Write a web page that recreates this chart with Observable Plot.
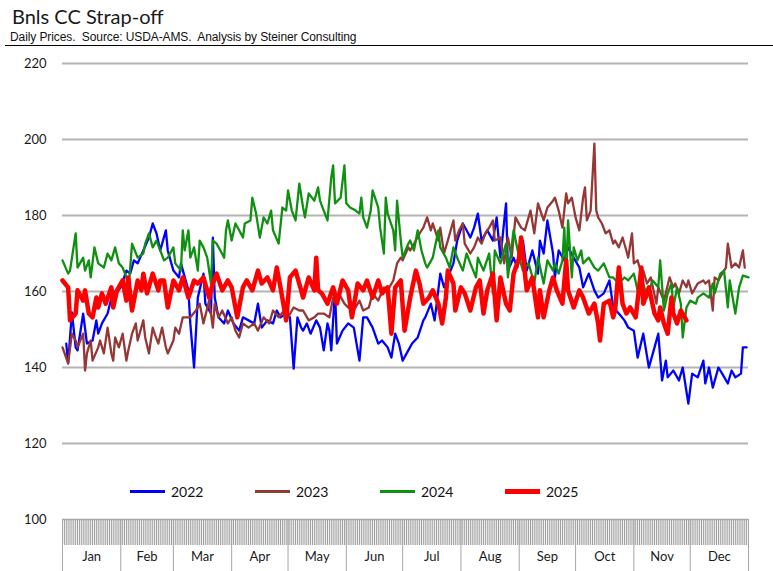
<!DOCTYPE html>
<html>
<head>
<meta charset="utf-8">
<script src="https://cdn.jsdelivr.net/npm/d3@7"></script>
<script src="https://cdn.jsdelivr.net/npm/@observablehq/plot@0.6"></script>
<style>
  body { margin:0; background:#fff; width:773px; height:571px; overflow:hidden; position:relative; font-family: Lato, "Open Sans", sans-serif; }
  #title { position:absolute; left:12px; top:6px; font-size:20px; line-height:20px; color:#1a1a1a; white-space:pre; }
  #sub { position:absolute; left:5px; top:31px; width:768px; padding-left:5px; box-sizing:border-box; font-family:"Liberation Sans", Arial, sans-serif; font-size:12px; line-height:12px; padding-bottom:2px; border-bottom:1px solid #000; white-space:pre; color:#111; letter-spacing:-0.1px; }
  #chart { position:absolute; left:0; top:46px; }
  .lg { position:absolute; top:482px; height:18px; display:flex; align-items:center; font-size:14px; color:#111; }
  .sw { display:inline-block; width:35px; margin-right:6px; }
</style>
</head>
<body>
<div id="title"></div>
<div id="sub"></div>
<div id="chart"></div>
<div id="legend"></div>
<script>
const titleText = "Bnls CC Strap-off";
const subtitleText = "Daily Prices.  Source: USDA-AMS.  Analysis by Steiner Consulting";
const yTicks = [100, 120, 140, 160, 180, 200, 220];
const monthLabels = ["Jan","Feb","Mar","Apr","May","Jun","Jul","Aug","Sep","Oct","Nov","Dec"];
const monthStarts = [0,31,59,90,120,151,181,212,243,273,304,334,365];
const seriesNames = ["2022","2023","2024","2025"];
const seriesColors = ["#0000ff","#953735","#109010","#ff0000"];
const seriesWidths = [2.3, 2.3, 2.3, 4.5];

// [day of year, price]
const s2022 = [[2,146.3],[3,141.1],[5,154.5],[7,145.3],[8,144.5],[11,154.2],[13,146.3],[16,147.1],[18,152.4],[19,148.9],[21,151.6],[24,154.2],[27,160.3],[28,159.1],[31,161.1],[34,165.5],[36,164.7],[38,168.2],[40,167.4],[43,170.8],[46,174.2],[48,177.9],[50,175.3],[52,170.8],[55,176.1],[56,170.8],[59,165.5],[62,163.7],[63,167.4],[67,160.3],[68,151.6],[70,140],[72,158.4],[75,164.7],[76,156.8],[79,154.2],[80,174.2],[81,158.4],[83,153.2],[86,151.6],[88,155],[91,151.6],[94,149.7],[96,153.2],[99,152.4],[102,151.6],[104,156.8],[106,150.5],[109,152.4],[112,151.6],[114,155],[116,153.2],[119,154.2],[121,153.2],[123,139.7],[125,153.2],[127,150.5],[128,149.7],[130,151.6],[132,148.9],[135,152.4],[137,150.5],[139,144.5],[141,151.6],[142,149.7],[143,144.5],[145,160.3],[146,146.3],[149,149.7],[152,151.6],[155,150.5],[158,141.8],[160,153.2],[162,153.2],[165,150.5],[168,146.3],[170,147.1],[173,145.3],[175,142.6],[177,148.9],[179,146.3],[181,141.8],[184,144.5],[186,146.3],[189,147.9],[192,152.4],[193,153.2],[196,156.8],[198,152.4],[201,164.7],[203,161.1],[205,163.7],[208,167.4],[210,173.4],[213,177.9],[215,176.1],[217,174.2],[219,176.8],[221,180.5],[223,173.4],[226,176.1],[229,173.4],[231,179.5],[233,168.9],[236,183.2],[237,165.5],[240,168.9],[242,166.3],[245,173.4],[247,165.5],[250,170.8],[253,164.7],[254,173.4],[256,170],[258,178.7],[261,170],[262,163.7],[264,170.8],[267,168.2],[269,171.6],[272,168.9],[275,166.3],[277,161.1],[280,164.7],[283,160.3],[285,158.4],[288,159.5],[291,162.9],[293,155.8],[296,154.2],[299,152.4],[301,150.5],[304,149.7],[306,142.6],[309,148.9],[312,140],[315,145.3],[317,148.9],[319,136.6],[321,141.8],[322,137.4],[325,139.2],[328,136.6],[330,140],[333,130.5],[335,138.4],[338,137.4],[341,141.8],[342,135.8],[344,140],[346,134.7],[349,140],[351,138.4],[354,135.8],[356,139.2],[358,137.4],[361,138.4],[362,145.3],[364,145.3]];

const s2023 = [[0,145.3],[3,141.1],[5,148.9],[7,147.1],[8,145.3],[11,148.9],[12,139.2],[13,143.7],[15,147.1],[16,141.8],[19,145.3],[20,147.1],[22,143.7],[24,150.5],[26,143.7],[27,141.8],[28,147.9],[30,145.3],[32,148.9],[34,141.8],[35,144.5],[37,148.9],[39,151.6],[40,147.1],[43,152.4],[44,147.9],[46,143.7],[48,150.5],[49,148.9],[51,146.3],[53,150.5],[55,145.3],[56,143.7],[59,147.1],[60,150.5],[62,148.9],[64,153.2],[68,153.2],[71,155],[73,156.8],[75,151.6],[78,157.6],[80,150.5],[81,156.8],[83,153.2],[85,155],[88,151.6],[90,153.2],[92,149.7],[94,147.9],[96,151.6],[99,150.5],[102,151.6],[104,149.7],[107,153.2],[110,151.6],[112,155],[115,153.2],[118,155],[120,153.2],[123,155.8],[126,155],[128,155],[131,152.4],[134,153.2],[136,154.2],[139,154.2],[142,153.2],[144,158.4],[147,159.5],[150,156.8],[152,155.8],[155,155],[158,157.6],[160,155],[163,155.8],[165,159.5],[168,157.6],[171,161.1],[173,160.3],[176,162.9],[178,167.4],[180,168.9],[181,168.2],[184,171.6],[185,170.8],[188,173.4],[190,175.3],[192,176.8],[194,179.5],[196,176.1],[197,177.9],[200,173.4],[201,176.8],[203,170],[205,173.4],[208,178.7],[209,173.4],[211,176.1],[213,177.9],[214,172.6],[217,170],[219,171.6],[221,174.2],[223,172.6],[225,175.3],[227,176.8],[229,178.7],[230,173.4],[233,174.2],[235,167.4],[237,174.2],[239,168.9],[241,179.5],[244,176.8],[246,176.1],[249,181.3],[251,175.3],[253,183.2],[256,178.7],[258,182.1],[261,183.9],[262,184.7],[264,181.3],[266,176.8],[268,185.8],[269,183.2],[271,184.7],[273,179.5],[275,176.1],[277,184.7],[278,187.4],[279,178.7],[281,181.3],[283,198.9],[284,181.3],[285,179.5],[287,177.9],[289,175.3],[291,176.1],[293,172.6],[294,173.4],[296,171.6],[298,174.2],[300,170.8],[301,168.9],[303,175.3],[304,167.4],[306,168.2],[308,164.7],[309,165.5],[311,162.1],[313,163.7],[316,156.8],[317,161.1],[320,157.6],[323,163.7],[325,161.1],[326,162.1],[328,159.5],[330,162.9],[332,161.1],[333,162.9],[335,159.5],[338,162.1],[341,162.9],[342,162.1],[344,162.9],[346,155],[347,163.7],[349,162.9],[351,164.7],[353,166.3],[354,172.6],[356,166.3],[358,167.4],[360,166.3],[362,170.8],[363,166.3]];

const s2024 = [[0,168.2],[3,164.7],[4,165.5],[7,175.3],[8,166.3],[11,168.9],[12,165.5],[14,168.2],[15,163.7],[17,171.6],[19,167.4],[22,166.3],[24,170],[26,168.2],[28,171.6],[30,167.4],[32,166.3],[34,163.7],[35,159.5],[37,172.6],[40,168.9],[43,170],[44,172.6],[46,175.3],[48,171.6],[50,173.4],[52,170.8],[54,168.2],[56,168.9],[59,171.6],[60,167.4],[63,165.5],[64,176.1],[65,170.8],[67,176.1],[68,168.9],[70,171.6],[72,165.5],[73,173.4],[75,171.6],[77,168.9],[79,162.1],[80,173.4],[82,172.6],[84,170.8],[86,168.9],[87,176.1],[88,178.7],[90,173.4],[92,177.9],[94,176.1],[96,174.2],[97,177.9],[100,178.7],[101,184.7],[103,180.5],[105,174.2],[107,179.5],[109,177.9],[111,181.3],[112,176.1],[115,172.6],[117,182.1],[119,181.3],[120,186.6],[122,181.3],[124,178.7],[126,188.4],[128,182.1],[129,179.5],[131,185.8],[134,183.9],[136,187.4],[137,183.9],[139,181.3],[141,178.7],[143,190],[144,193.2],[145,183.2],[148,184.7],[150,193.2],[151,183.2],[153,182.1],[156,181.3],[158,180.5],[159,184.7],[160,179.5],[162,176.8],[164,181.3],[165,186.6],[168,182.1],[169,176.8],[171,170],[172,184.7],[173,180.5],[176,176.1],[177,170.8],[178,183.9],[180,173.4],[181,168.9],[184,172.6],[185,173.4],[187,170.8],[189,176.1],[191,170.8],[193,167.4],[194,166.3],[197,168.9],[200,176.1],[201,171.6],[204,168.9],[206,166.3],[208,171.6],[210,168.9],[213,165.5],[215,170],[217,167.4],[220,163.7],[221,168.9],[224,165.5],[227,170],[229,159.5],[230,170.8],[233,167.4],[236,172.6],[237,163.7],[240,176.1],[243,168.9],[245,165.5],[248,167.4],[251,162.1],[253,168.9],[256,162.1],[258,168.2],[261,165.5],[262,167.4],[264,164.7],[266,168.2],[267,176.8],[268,163.7],[269,178.7],[271,163.7],[272,171.6],[274,168.2],[276,170.8],[277,167.4],[280,168.9],[283,166.3],[285,165.5],[288,167.4],[291,163.7],[293,163.7],[296,162.1],[299,163.7],[301,162.9],[304,164.7],[306,160.3],[309,162.1],[311,158.4],[314,162.9],[317,161.1],[318,168.2],[320,155],[322,159.5],[324,162.1],[325,155.8],[327,161.1],[329,156.8],[330,147.9],[332,155.8],[334,157.6],[337,156.8],[338,158.4],[341,159.5],[344,158.4],[346,162.1],[347,159.5],[350,164.7],[352,165.5],[354,155.8],[355,162.9],[358,154.2],[360,161.1],[362,164.2],[365,163.7]];

const s2025 = [[0,162.9],[3,161.1],[4,152.4],[7,154.2],[8,160.3],[11,157.6],[12,160.3],[14,154.2],[16,153.2],[18,158.4],[19,155.8],[21,159.5],[23,156.8],[26,161.1],[27,155.8],[29,160.3],[32,162.9],[34,157.6],[35,163.7],[37,155],[40,162.9],[42,160.3],[43,164.7],[45,159.5],[48,164.7],[51,160.3],[52,162.9],[54,162.9],[56,155.8],[59,162.9],[62,160.3],[64,163.7],[67,158.4],[70,162.9],[72,162.1],[75,163.7],[78,158.4],[80,162.1],[82,164.7],[85,160.3],[88,162.9],[90,161.1],[93,153.2],[96,161.1],[98,162.9],[101,160.3],[104,165.5],[106,162.1],[109,163.7],[112,160.3],[114,166.3],[116,161.1],[119,152.4],[121,163.7],[124,165.5],[127,160.3],[128,158.4],[131,163.7],[134,160.3],[135,168.9],[136,160.3],[138,159.5],[141,156.8],[144,161.1],[146,156.8],[149,162.9],[152,160.3],[154,153.2],[157,162.1],[160,160.3],[162,162.9],[165,158.4],[168,162.9],[170,159.5],[173,161.1],[175,148.9],[177,161.1],[180,162.9],[182,149.7],[185,158.4],[188,165.5],[190,162],[192,156.8],[195,158.4],[197,160.3],[200,156.8],[202,151.6],[204,158.4],[205,165.5],[208,162.1],[209,155],[212,161.1],[214,159.5],[217,155],[220,161.1],[222,162.9],[224,154.2],[226,160.3],[229,164.7],[231,152.4],[233,163.7],[236,156.8],[238,155],[240,164.7],[243,168.9],[244,174.2],[247,160.3],[250,163.7],[253,153.2],[254,160.3],[256,153.2],[259,160.3],[261,163.7],[263,160.3],[266,156.8],[268,168.2],[269,160.3],[272,155.8],[275,160.3],[277,158.4],[280,154.2],[283,156.8],[285,151.6],[286,147.1],[288,156.8],[291,157.6],[293,153.2],[294,155],[296,166.3],[298,156.8],[300,154.2],[302,155.8],[305,153.2],[308,166.3],[309,156.8],[312,161.1],[315,154.2],[317,152.4],[318,155.8],[320,151.6],[322,148.9],[324,158.4],[325,154.2],[327,151.6],[329,155],[332,152.4]];

const allSeries = [s2022, s2023, s2024, s2025];

document.getElementById("title").textContent = titleText;
document.getElementById("sub").textContent = subtitleText;

const monthMids = monthLabels.map((m, i) => (monthStarts[i] + monthStarts[i + 1]) / 2);
const midLabel = new Map(monthMids.map((d, i) => [d, monthLabels[i]]));
const dayTicks = d3.range(0, 366);

const chart = Plot.plot({
  width: 773,
  height: 525,
  marginTop: 17,
  marginBottom: 52,
  marginLeft: 62,
  marginRight: 25,
  x: { type: "linear", domain: [0, 365] },
  y: { domain: [100, 220] },
  style: { fontFamily: "Lato, 'Open Sans', sans-serif", background: "white", color: "#1a1a1a" },
  marks: [
    Plot.gridY(yTicks.filter(v => v > 100), { stroke: "#b4b4b4", strokeOpacity: 1, strokeWidth: 2 }),
    Plot.axisY(yTicks, { anchor: "left", tickSize: 0, tickPadding: 16, label: null, fontSize: 13 }),
    Plot.axisX(dayTicks, { anchor: "bottom", tickSize: 26, fill: "none", stroke: "#9c9c9c", strokeWidth: 1, label: null }),
    Plot.axisX(monthStarts, { anchor: "bottom", tickSize: 52, fill: "none", stroke: "#a6a6a6", strokeWidth: 1, label: null }),
    Plot.axisX(monthMids, { anchor: "bottom", tickSize: 0, tickPadding: 32, stroke: "none", tickFormat: d => midLabel.get(d), label: null, fontSize: 13 }),
    Plot.ruleY([100], { stroke: "#a6a6a6", strokeWidth: 1.5 }),
    ...allSeries.map((s, i) => Plot.line(s, {
      x: d => d[0], y: d => d[1],
      stroke: seriesColors[i], strokeWidth: seriesWidths[i],
      strokeLinejoin: "round", strokeLinecap: "round"
    }))
  ]
});
document.getElementById("chart").appendChild(chart);

const legend = document.getElementById("legend");
seriesNames.forEach((name, i) => {
  const item = document.createElement("div");
  item.className = "lg";
  item.style.left = (130 + i * 125) + "px";
  const sw = document.createElement("span");
  sw.className = "sw";
  sw.style.height = (i === 3 ? 5 : 3) + "px";
  sw.style.background = seriesColors[i];
  const lb = document.createElement("span");
  lb.textContent = name;
  item.appendChild(sw);
  item.appendChild(lb);
  legend.appendChild(item);
});
</script>
</body>
</html>
